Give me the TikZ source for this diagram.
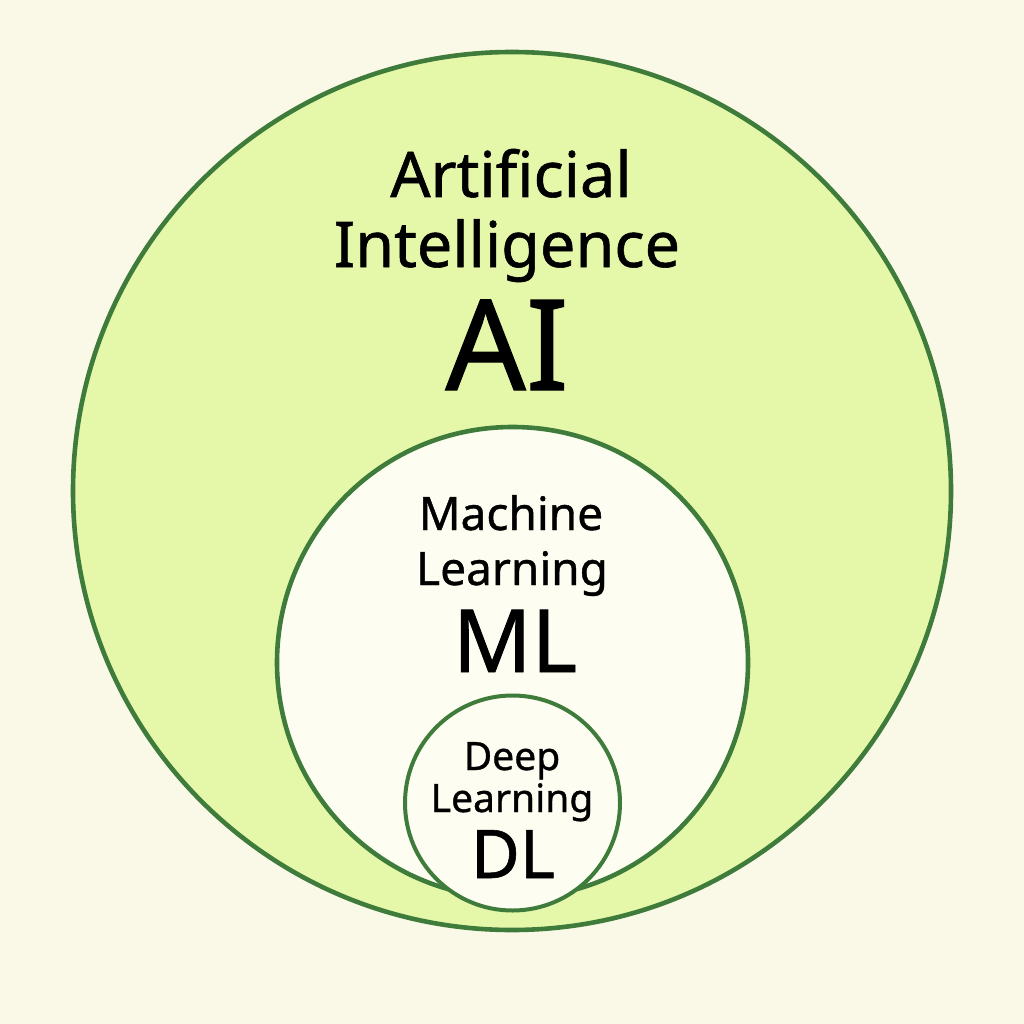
\documentclass[tikz,border=0pt]{standalone}
\usepackage{fontspec}
\setmainfont{Noto Sans}[FakeBold=0.9]
\definecolor{bgc}{HTML}{FAF9E7}
\definecolor{limec}{HTML}{E5F8AA}
\definecolor{palec}{HTML}{FDFEF1}
\definecolor{strokec}{HTML}{3F7C3B}
\begin{document}
\begin{tikzpicture}[x=1pt,y=-1pt,
  ring/.style={circle, draw=strokec, line width=4.6pt, inner sep=0pt, outer sep=0pt},
  lbl/.style={anchor=base, inner sep=0pt, text=black},
]
\fill[bgc] (0,0) rectangle (1024,1024);
\useasboundingbox (0,0) rectangle (1024,1024);
\node[ring, fill=limec, minimum size=878pt] (ai) at (512,491) {};
\node[ring, fill=palec, minimum size=471pt] (ml) at (512.5,662.5) {};
\node[ring, fill=palec, minimum size=215pt, line width=4pt] (dl) at (512.5,803) {};
\node[lbl, font=\fontsize{63}{63}\selectfont] (t1) at (511,197) {Artificial};
\node[lbl, font=\fontsize{63}{63}\selectfont] (t2) at (507,267) {Intelligence};
\node[lbl, font=\fontsize{126}{126}\selectfont] (t3) at (507,390) {AI};
\node[lbl, font=\fontsize{46}{46}\selectfont] (m1) at (511,530) {Machine};
\node[lbl, font=\fontsize{46}{46}\selectfont] (m2) at (512,585) {Learning};
\node[lbl, font=\fontsize{87}{87}\selectfont] (m3) at (515,672) {ML};
\node[lbl, font=\fontsize{39}{39}\selectfont] (d1) at (512,770) {Deep};
\node[lbl, font=\fontsize{39}{39}\selectfont] (d2) at (512,812) {Learning};
\node[lbl, font=\fontsize{67}{67}\selectfont] (d3) at (513,878) {DL};
\end{tikzpicture}
\end{document}
